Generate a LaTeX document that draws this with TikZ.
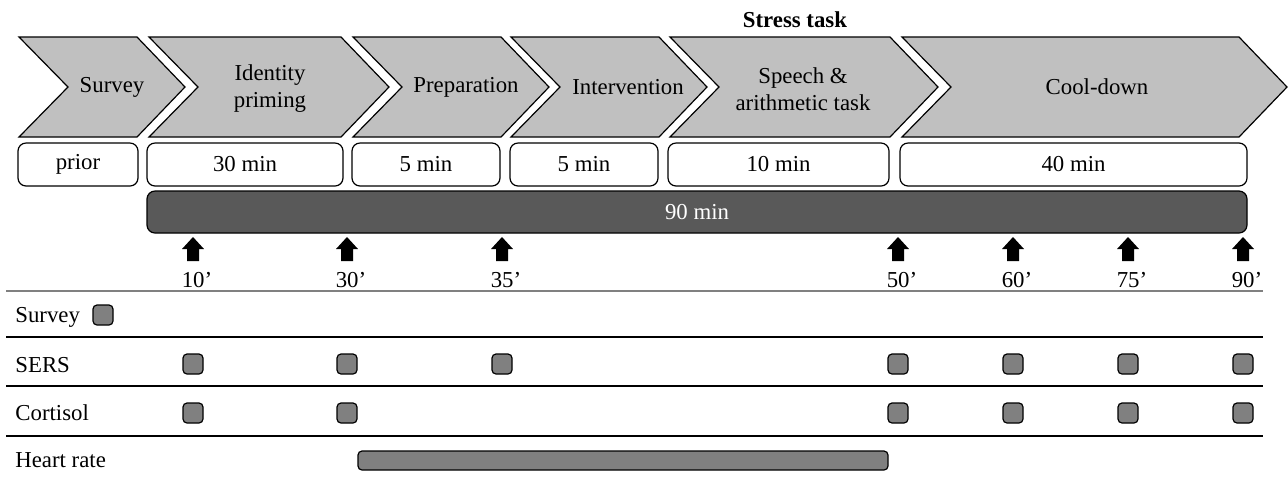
\documentclass[tikz,border=0pt]{standalone}
\usepackage{fontspec}
\setmainfont{Liberation Serif}
\usetikzlibrary{positioning}
\definecolor{chevgray}{RGB}{192,192,192}
\definecolor{bargray}{RGB}{89,89,89}
\definecolor{markgray}{RGB}{128,128,128}

\begin{document}
\begin{tikzpicture}[x=0.5pt, y=-0.5pt, font=\fontsize{11.4}{13.5}\selectfont,
		phase/.style={draw, fill=chevgray, line width=0.6pt, line join=miter},
		dur/.style={draw, rounded corners=4pt, fill=white, line width=0.6pt, minimum height=21.5pt, inner sep=0pt},
		meas/.style={draw, rounded corners=2pt, fill=markgray, line width=0.6pt, minimum width=10pt, minimum height=10pt, inner sep=0pt},
		tick/.style={anchor=base, inner sep=0pt},
		rowlbl/.style={anchor=base west, inner sep=0pt}]
		\useasboundingbox (0,0) rectangle (1288,479);
		
		% phases
		\foreach \a/\b in {19/137, 149/341, 353/501, 511/659, 670/890, 902/1239}
		\draw[phase] (\a,37) -- (\b,37) -- (\b+48,87) -- (\b,137) -- (\a,137) -- (\a+49,87) -- cycle;
		
		\node (survey) at (112,87) {Survey};
		\node[align=center] (ident) at (270,89) {Identity\\priming};
		\node (prep) at (466,87) {Preparation};
		\node (interv) at (628,87) {Intervention};
		\node[align=center] (speech) at (803,89) {Speech \&\\arithmetic task};
		\node (cool) at (1097,87) {Cool-down};
		\node[anchor=base, font=\fontsize{11.4}{13.5}\selectfont\bfseries] (stress) at (795,27) {Stress task};
		
		% durations
		\node[dur, minimum width=60pt] (dprior) at (78,164.5) {prior};
		\node[dur, minimum width=98pt] (d30) at (245,164.5) {30 min};
		\node[dur, minimum width=74pt] (d5a) at (426,164.5) {5 min};
		\node[dur, minimum width=74pt] (d5b) at (584,164.5) {5 min};
		\node[dur, minimum width=110.5pt] (d10) at (778.5,164.5) {10 min};
		\node[dur, minimum width=173.5pt] (d40) at (1073.5,164.5) {40 min};
		\node[draw, rounded corners=4pt, fill=bargray, line width=0.6pt, minimum width=550pt, minimum height=21pt, text=white] (d90) at (697,212) {90 min};
		
		% time points
		\foreach \x/\t in {193/10, 347/30, 502/35, 898/50, 1013/60, 1128/75, 1243/90}{
			\fill (\x-6,261) -- (\x-6,249) -- (\x-11,249) -- (\x,237) -- (\x+11,249) -- (\x+6,249) -- (\x+6,261) -- cycle;
			\node[tick] (t\t) at (\x+4,287) {\t’};
		}
		
		% rows
		\draw[gray, line width=0.6pt] (6,291) -- (1263,291);
		\draw[line width=0.6pt] (6,337) -- (1263,337);
		\draw[line width=0.6pt] (6,386) -- (1263,386);
		\draw[line width=0.6pt] (6,436) -- (1263,436);
		
		\node[rowlbl] (rsurvey) at (15,322) {Survey};
		\node[rowlbl] (rsers) at (15,372) {SERS};
		\node[rowlbl] (rcort) at (15,420) {Cortisol};
		\node[rowlbl] (rhr) at (15,467) {Heart rate};
		
		\node[meas] (msurvey) at (103,315) {};
		\foreach \x in {193, 347, 502, 898, 1013, 1128, 1243}
		\node[meas] (sers\x) at (\x,364) {};
		\foreach \x in {193, 347, 898, 1013, 1128, 1243}
		\node[meas] (cort\x) at (\x,413) {};
		\node[meas, minimum width=265pt, minimum height=9.5pt] (hrbar) at (623,460.5) {};
		
\end{tikzpicture}
\end{document}
